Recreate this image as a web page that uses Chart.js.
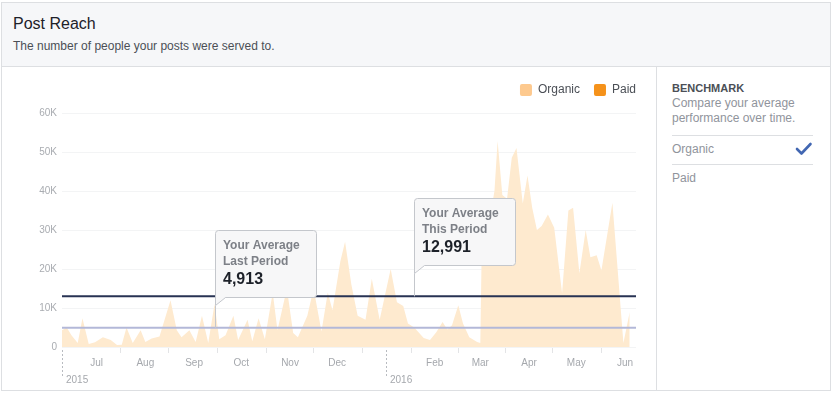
<!DOCTYPE html>
<html><head><meta charset="utf-8">
<script src="https://cdn.jsdelivr.net/npm/chart.js@4.4.0/dist/chart.umd.min.js"></script>
<style>
html,body{margin:0;padding:0;background:#fff;width:833px;height:398px;overflow:hidden;font-family:"Liberation Sans",Arial,Helvetica,sans-serif;}
#card{position:absolute;left:1px;top:2px;width:830px;height:389px;border:1px solid #dddfe2;background:#fff;box-sizing:border-box;}
#head{position:absolute;left:0;top:0;width:828px;height:63px;background:#f6f7f9;border-bottom:1px solid #dddfe2;}
#title{position:absolute;left:11px;top:12px;font-size:16px;color:#1d2129;}
#sub{position:absolute;left:11px;top:36px;font-size:12px;color:#4b4f56;}
#chartBox{position:absolute;left:0;top:66px;width:656px;height:325px;}
#side{position:absolute;left:656px;top:66px;width:176px;height:324px;border-left:1px solid #dddfe2;box-sizing:border-box;}
#side .bm{position:absolute;left:15px;top:16px;font-size:11px;font-weight:bold;color:#4b4f56;}
#side .desc{position:absolute;left:15px;top:30px;font-size:12px;line-height:15px;color:#90949c;}
#side .hr{position:absolute;left:15px;width:141px;height:1px;background:#dddfe2;}
#side .opt{position:absolute;left:15px;font-size:12px;color:#90949c;}
#side svg{position:absolute;left:138px;top:76px;}
</style>
</head><body>
<div id="card">
  <div id="head">
    <div id="title">Post Reach</div>
    <div id="sub">The number of people your posts were served to.</div>
  </div>
</div>
<div id="chartBox"><canvas id="c" width="656" height="325"></canvas></div>
<div id="side">
  <div class="bm">BENCHMARK</div>
  <div class="desc">Compare your average<br>performance over time.</div>
  <div class="hr" style="top:69px"></div>
  <div class="opt" style="top:76px">Organic</div>
  <svg width="18" height="14" viewBox="0 0 18 14"><polyline points="2,7 6.5,11.5 15.5,2" fill="none" stroke="#4267b2" stroke-width="2.6" stroke-linecap="round" stroke-linejoin="round"/></svg>
  <div class="hr" style="top:98px"></div>
  <div class="opt" style="top:105px">Paid</div>
</div>
<script>
// ---- data (x = day index, day 0 = 9 Jun 2015) ----
const days = [0,3,6,10,13,17,21,26,31,35,38,41,45,50,53,57,62,69,73,76,81,85,89,93,97,100,104,109,112,118,121,125,129,134,137,143,147,150,156,160,165,169,172,177,180,184,188,193,197,202,209,213,217,220,224,230,234,238,242,245,248,252,255,259,264,266,267,272,275,277,280,283,286,289,293,296,299,302,305,309,313,318,322,325,329,333,336,340,343,350,357,361];
const organic = [4300,5000,3000,1000,7400,800,1200,2500,1800,500,600,5000,1000,4300,1300,2200,2700,12000,4300,2500,4300,1300,8000,1000,11000,2000,3000,8000,1800,7000,1500,7400,2000,14000,4300,15000,3600,2500,8000,15000,4000,14000,9400,22000,27000,16000,8000,7000,17500,7000,20000,11500,10500,6000,5000,2300,1800,3800,6400,4500,5600,10700,6000,2500,1300,1000,28000,33000,40000,52800,39000,38000,48500,51000,36800,44000,35700,30000,31000,34000,30600,13800,35000,35700,18900,30000,23000,23500,19600,37000,1000,9000];
const paid = [];
const avgLastPeriod = 4913;
const avgThisPeriod = 12991;
const monthStarts = [22,53,84,114,145,175,206,237,266,297,327,358];
const monthNames = ['Jul','Aug','Sep','Oct','Nov','Dec','','Feb','Mar','Apr','May','Jun'];
const midMonths = [37,68,99,130,160,191,222,252,282,312,343];
const years = [{day:0,label:'2015'},{day:206,label:'2016'}];
const yTicks = [0,10000,20000,30000,40000,50000,60000];
const seriesNames = ['Organic','Paid'];
// ---- styling ----
const FONT = '"Liberation Sans", Arial, Helvetica, sans-serif';
const colOrganicArea = '#feeacf';
const legendColors = ['#fdc98e','#f5921b'];

const labelMap = {};
monthStarts.forEach((d,i)=>labelMap[d]=monthNames[i]);

const bubblePlugin = {
  id:'bubbles',
  afterDatasetsDraw(chart, args, opts){
    const ctx = chart.ctx, xs = chart.scales.x, ys = chart.scales.y;
    opts.items.forEach(it=>{
      const ax = Math.round(xs.getPixelForValue(it.day));
      const ay = ys.getPixelForValue(it.value);
      const w=101, h=67, gap=31, notch=8, nw=10, r=3;
      const left=ax+0.5, bottom=Math.round(ay-gap)+0.5, top=bottom-h, right=left+w;
      ctx.save();
      ctx.strokeStyle='#c4c7cc'; ctx.lineWidth=1;
      ctx.beginPath(); ctx.moveTo(left,bottom+notch); ctx.lineTo(left,ay); ctx.stroke();
      ctx.beginPath();
      ctx.moveTo(left,top+r);
      ctx.arcTo(left,top,left+r,top,r);
      ctx.lineTo(right-r,top);
      ctx.arcTo(right,top,right,top+r,r);
      ctx.lineTo(right,bottom-r);
      ctx.arcTo(right,bottom,right-r,bottom,r);
      ctx.lineTo(left+nw,bottom);
      ctx.lineTo(left,bottom+notch);
      ctx.closePath();
      ctx.fillStyle='#f7f7f8'; ctx.fill(); ctx.stroke();
      ctx.textBaseline='middle'; ctx.textAlign='left';
      ctx.fillStyle='#7d8087'; ctx.font='bold 12px '+FONT;
      ctx.fillText(it.l1,left+7.5,top+15);
      ctx.fillText(it.l2,left+7.5,top+31);
      ctx.fillStyle='#1d2129'; ctx.font='bold 16px '+FONT;
      ctx.fillText(it.value.toLocaleString('en-US'),left+7.5,top+49);
      ctx.restore();
    });
  }
};

const yearPlugin = {
  id:'years',
  afterDraw(chart){
    const ctx=chart.ctx, xs=chart.scales.x, b=chart.chartArea.bottom;
    ctx.save();
    years.forEach(y=>{
      const x=Math.round(xs.getPixelForValue(y.day))+0.5;
      ctx.strokeStyle='#b8bbc0'; ctx.lineWidth=1; ctx.setLineDash([2,2]);
      ctx.beginPath(); ctx.moveTo(x,b+3); ctx.lineTo(x,b+29); ctx.stroke();
      ctx.setLineDash([]);
      ctx.fillStyle='#a5a8ad'; ctx.font='10px '+FONT; ctx.textBaseline='middle'; ctx.textAlign='left';
      ctx.fillText(y.label,x+3.5,b+33);
    });
    ctx.restore();
  }
};

const legendFitPlugin = {
  id:'legendFit',
  beforeInit(chart){
    const lg = chart.legend;
    if(!lg) return;
    const orig = lg.fit;
    lg.fit = function(){ orig.call(this); this.height = 43; };
  },
  afterLayout(chart){
    const lg = chart.legend;
    if(!lg) return;
    lg.left += 14; lg.right += 14;
  }
};

new Chart(document.getElementById('c'),{
  type:'line',
  data:{
    datasets:[
      {label:seriesNames[0], data:days.map((d,i)=>({x:d,y:organic[i]})), fill:'origin', backgroundColor:colOrganicArea, borderColor:'rgba(0,0,0,0)', borderWidth:0, pointRadius:0, tension:0, order:3},
      {label:seriesNames[1], data:paid, fill:'origin', backgroundColor:legendColors[1], borderWidth:0, pointRadius:0, order:4},
      {label:'avgLast', data:[{x:0,y:avgLastPeriod},{x:365,y:avgLastPeriod}], borderColor:'#b3b8d8', borderWidth:2, pointRadius:0, fill:false, order:2},
      {label:'avgThis', data:[{x:0,y:avgThisPeriod},{x:365,y:avgThisPeriod}], borderColor:'#283353', borderWidth:2, pointRadius:0, fill:false, order:1}
    ]
  },
  options:{
    responsive:false, animation:false, devicePixelRatio:1,
    layout:{padding:{left:0,right:20,top:4,bottom:0}},
    scales:{
      x:{type:'linear', min:0, max:365,
        afterBuildTicks(s){ s.ticks = monthStarts.concat(midMonths).sort((a,b)=>a-b).map(v=>({value:v})); },
        afterFit(s){ s.height = 44; },
        ticks:{autoSkip:false, maxRotation:0, padding:4, color:'#a5a8ad', font:{family:FONT,size:10},
          callback:(v)=> labelMap[v] !== undefined ? labelMap[v] : ''},
        grid:{drawOnChartArea:false, drawTicks:true, tickLength:6,
          tickColor:(c)=> (c.tick && midMonths.includes(c.tick.value)) ? '#e3e4e6' : 'rgba(0,0,0,0)'},
        border:{display:false}
      },
      y:{min:0, max:60000,
        afterBuildTicks(s){ s.ticks = yTicks.map(v=>({value:v})); },
        afterFit(s){ s.width = 62; },
        ticks:{padding:5, color:'#a9acb1', font:{family:FONT,size:10},
          callback:(v)=> v===0 ? '0' : (v/1000)+'K'},
        grid:{color:'#f3f4f5', drawTicks:false},
        border:{display:false}
      }
    },
    plugins:{
      legend:{display:true, position:'top', align:'end',
        labels:{boxWidth:12, boxHeight:12, padding:14, useBorderRadius:true, borderRadius:2, color:'#4b4f56', font:{family:FONT,size:12},
          generateLabels:()=> seriesNames.map((n,i)=>({text:n, fillStyle:legendColors[i], strokeStyle:legendColors[i], lineWidth:0, hidden:false, datasetIndex:i, borderRadius:2, fontColor:'#4b4f56'}))
        }},
      tooltip:{enabled:false},
      bubbles:{items:[
        {day:97, value:avgLastPeriod, l1:'Your Average', l2:'Last Period'},
        {day:224, value:avgThisPeriod, l1:'Your Average', l2:'This Period'}
      ]}
    }
  },
  plugins:[legendFitPlugin, bubblePlugin, yearPlugin]
});
</script>
</body></html>
